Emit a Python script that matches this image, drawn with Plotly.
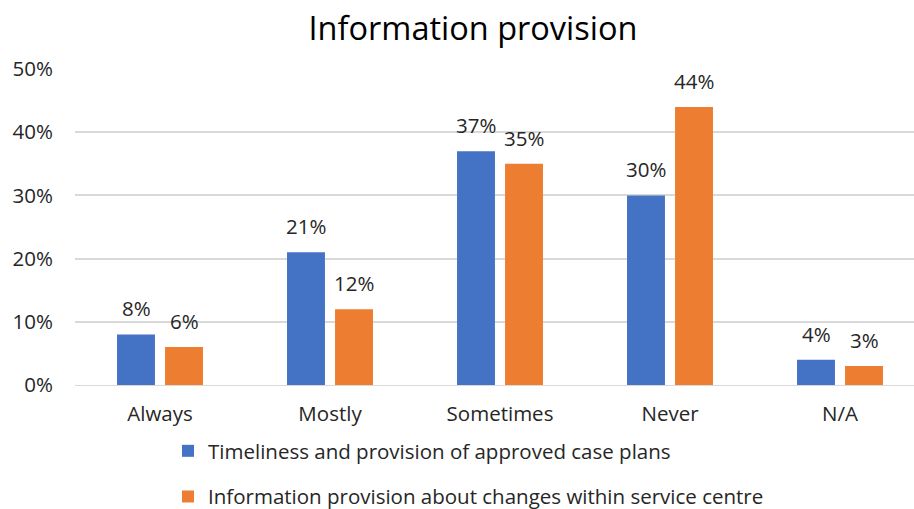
import plotly.graph_objects as go

categories = ["Always", "Mostly", "Sometimes", "Never", "N/A"]
series_names = ["Timeliness and provision of approved case plans",
                "Information provision about changes within service centre"]
case_plans = [0.08, 0.21, 0.37, 0.30, 0.04]
service_changes = [0.06, 0.12, 0.35, 0.44, 0.03]
y_ticks = [0, 0.1, 0.2, 0.3, 0.4, 0.5]
y_tick_labels = ["0%", "10%", "20%", "30%", "40%", "50%"]

colors = ["#4472C4", "#ED7D31"]
FONT = "'Open Sans', sans-serif"
FS = 20.5

fig = go.Figure()
all_series = [case_plans, service_changes]
for i, vals in enumerate(all_series):
    fig.add_trace(go.Bar(
        x=categories, y=vals, name=series_names[i],
        marker=dict(color=colors[i], line=dict(width=0)),
        legendgroup=f"g{i}",
    ))

# data labels, anchored to each bar's value
for i, vals in enumerate(all_series):
    for c, v in zip(categories, vals):
        fig.add_annotation(
            x=c, y=v, xref="x", yref="y", text=f"{round(v*100)}%",
            showarrow=False, yanchor="bottom", xanchor="center",
            xshift=-24 if i == 0 else 24, yshift=10,
            font=dict(size=FS, color="#262626", family=FONT),
        )

fig.update_layout(
    width=914, height=509,
    margin=dict(l=75, r=0, t=69, b=124, autoexpand=False),
    paper_bgcolor="white", plot_bgcolor="white",
    barmode="group", bargap=0.435, bargroupgap=0.21,
    title=dict(text="Information provision", x=473/914, xanchor="center", xref="container",
               y=1 - 29/509, yanchor="middle",
               font=dict(size=32.5, color="#000000", family=FONT)),
    font=dict(family=FONT, color="#262626"),
    xaxis=dict(range=[-0.5, -0.5 + 839/170], showgrid=False, showline=True,
               linecolor="#D9D9D9", linewidth=1, ticks="", automargin=False,
               ticklabelstandoff=10,
               tickfont=dict(size=FS, color="#262626")),
    yaxis=dict(range=[0, 0.5], tickvals=y_ticks, ticktext=y_tick_labels,
               showgrid=True, gridcolor="#D9D9D9", gridwidth=1.5, zeroline=False,
               ticks="", ticklabelstandoff=21, automargin=False,
               tickfont=dict(size=FS, color="#262626")),
    legend=dict(orientation="v", x=168/914, xanchor="left", xref="container",
                y=1 - 431/509, yanchor="top", yref="container", tracegroupgap=16,
                font=dict(size=FS, color="#262626", family=FONT),
                itemwidth=30),
    showlegend=True,
)

fig.write_html("out.html", config={"displayModeBar": False},
               post_script="document.body.style.margin='0';document.body.style.padding='0';")
